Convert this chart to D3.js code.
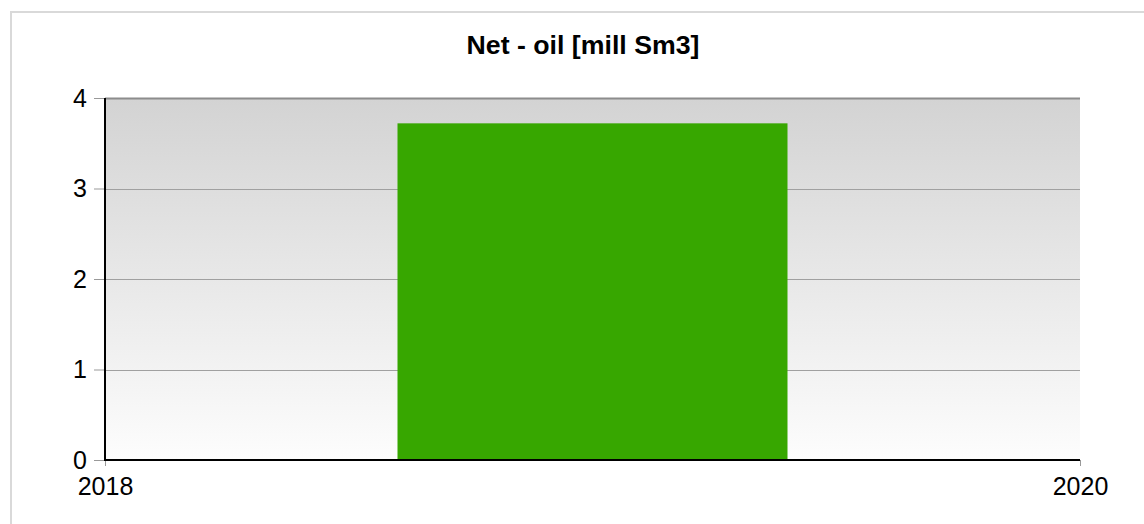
<!DOCTYPE html>
<html>
<head>
<meta charset="utf-8">
<script src="https://cdn.jsdelivr.net/npm/d3@7"></script>
<style>
  html, body { margin: 0; padding: 0; background: #fff; }
  svg { display: block; font-family: "Liberation Sans", Arial, sans-serif; }
</style>
</head>
<body>
<div id="chart"></div>
<script>
const title = 'Net - oil [mill Sm3]';
const years = [2019];
const values = [3.72];
const xTicks = [2018, 2020];
const yTicks = [0, 1, 2, 3, 4];

const width = 1144, height = 524;
const margin = { top: 98, right: 64, bottom: 64, left: 105 };

const svg = d3.select('#chart')
  .append('svg')
  .attr('width', width)
  .attr('height', height);

// outer frame (runs off the right and bottom edges)
svg.append('rect')
  .attr('x', 11)
  .attr('y', 12)
  .attr('width', width + 20)
  .attr('height', height + 20)
  .attr('fill', 'none')
  .attr('stroke', '#d9d9d9')
  .attr('stroke-width', 2);

const x = d3.scaleTime()
  .domain([new Date(xTicks[0], 0, 1), new Date(xTicks[1], 0, 1)])
  .range([margin.left, width - margin.right]);

const y = d3.scaleLinear()
  .domain([0, 4])
  .range([height - margin.bottom, margin.top]);

const defs = svg.append('defs');
const grad = defs.append('linearGradient')
  .attr('id', 'bg')
  .attr('x1', 0).attr('y1', 0).attr('x2', 0).attr('y2', 1);
grad.append('stop').attr('offset', '0%').attr('stop-color', '#d3d3d3');
grad.append('stop').attr('offset', '100%').attr('stop-color', '#fdfdfd');

svg.append('rect')
  .attr('x', x.range()[0])
  .attr('y', y(4))
  .attr('width', x.range()[1] - x.range()[0])
  .attr('height', y(0) - y(4))
  .attr('fill', 'url(#bg)');

// gridlines
svg.append('g')
  .selectAll('line')
  .data(yTicks.filter(d => d > 0))
  .enter()
  .append('line')
  .attr('x1', x.range()[0])
  .attr('x2', x.range()[1])
  .attr('y1', d => Math.round(y(d)) + 0.5)
  .attr('y2', d => Math.round(y(d)) + 0.5)
  .attr('stroke', d => d === 4 ? '#8c8c8c' : '#a0a0a0')
  .attr('stroke-width', d => d === 4 ? 2 : 1);

// bars, 0.8 of a year wide, centred on Jan 1 of each year
const barW = 0.8;
svg.selectAll('.bar')
  .data(values)
  .enter()
  .append('rect')
  .attr('class', 'bar')
  .attr('x', (d, i) => {
    const a = x(new Date(years[i], 0, 1)), b = x(new Date(years[i] + 1, 0, 1));
    return a - (b - a) * barW / 2;
  })
  .attr('width', (d, i) => (x(new Date(years[i] + 1, 0, 1)) - x(new Date(years[i], 0, 1))) * barW)
  .attr('y', d => y(d))
  .attr('height', d => y(0) - y(d))
  .attr('fill', '#37a700');

// y axis
const yAxis = svg.append('g')
  .attr('transform', `translate(${margin.left},0)`)
  .call(d3.axisLeft(y).tickValues(yTicks).tickFormat(d3.format('d')).tickSize(11).tickPadding(7));
yAxis.select('.domain').remove();
yAxis.selectAll('.tick line').attr('stroke', '#999');
yAxis.selectAll('.tick text')
  .attr('fill', '#000')
  .style('font-size', '25px')
  .style('font-family', '"Liberation Sans", Arial, sans-serif');

// x axis
const xAxis = svg.append('g')
  .attr('transform', `translate(0,${y(0)})`)
  .call(d3.axisBottom(x)
    .tickValues(xTicks.map(d => new Date(d, 0, 1)))
    .tickFormat(d3.timeFormat('%Y'))
    .tickSize(6)
    .tickPadding(11));
xAxis.select('.domain').remove();
xAxis.selectAll('.tick line').attr('stroke', '#999');
xAxis.selectAll('.tick text')
  .attr('fill', '#000')
  .style('font-size', '25px')
  .style('font-family', '"Liberation Sans", Arial, sans-serif');

// axis lines
svg.append('line')
  .attr('x1', margin.left).attr('x2', margin.left)
  .attr('y1', y(4)).attr('y2', y(0) + 1)
  .attr('stroke', '#000').attr('stroke-width', 2);
svg.append('line')
  .attr('x1', margin.left - 1).attr('x2', x.range()[1])
  .attr('y1', y(0)).attr('y2', y(0))
  .attr('stroke', '#000').attr('stroke-width', 2);

svg.append('text')
  .attr('x', 583)
  .attr('y', 54)
  .attr('text-anchor', 'middle')
  .style('font-size', '26.7px')
  .style('font-weight', 'bold')
  .attr('fill', '#000')
  .text(title);
</script>
</body>
</html>
